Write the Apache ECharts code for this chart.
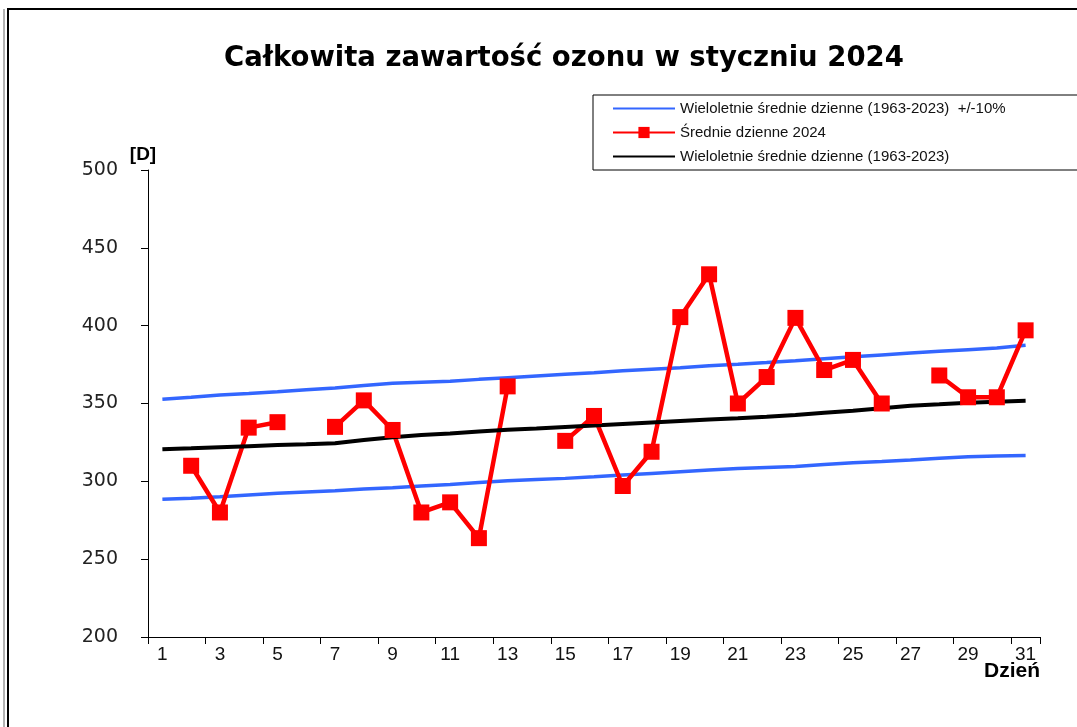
<!DOCTYPE html>
<html>
<head>
<meta charset="utf-8">
<script src="https://cdn.jsdelivr.net/npm/echarts@6/dist/echarts.min.js"></script>
<style>
  html, body { margin: 0; padding: 0; background: #fff; }
  #chart { width: 1077px; height: 727px; }
</style>
</head>
<body>
<div id="chart"></div>
<script>
// dni stycznia
var days = [];
for (var d = 1; d <= 31; d++) days.push(String(d));

// Średnie dzienne 2024 (brak pomiaru = null)
var daily2024 = [null, 310, 280, 334.5, 338, null, 335, 352, 333, 280, 286.5, 263.5, 361, null,
  326, 342, 297, 319, 405.5, 433, 350, 367, 405, 371.5, 378, 350, null, 368, 354, 354, 397];

// Wieloletnie średnie dzienne (1963-2023)
var meanLong = [320.6, 321.2, 321.9, 322.6, 323.3, 323.8, 324.4, 326.5, 328.3, 329.7, 330.8, 332,
  333.2, 334, 334.9, 335.8, 336.8, 337.8, 338.8, 339.7, 340.5, 341.5, 342.6, 344, 345.4, 347,
  348.6, 349.5, 350.5, 351.2, 351.8];

// +10% i -10%
var upperBand = [352.7, 354, 355.5, 356.5, 357.6, 358.8, 360, 361.5, 363, 363.7, 364.3, 365.5,
  366.6, 367.7, 368.8, 369.8, 371, 372, 373, 374.2, 375.2, 376.3, 377.5, 378.8, 380, 381.2,
  382.4, 383.5, 384.6, 385.6, 387.4];
var lowerBand = [288.5, 289.2, 290.1, 291.2, 292.3, 293.2, 294, 295, 295.9, 297, 298, 299.2,
  300.3, 301.1, 301.9, 302.9, 304, 305.1, 306.2, 307.3, 308.3, 308.9, 309.5, 310.8, 312, 312.8,
  313.7, 314.8, 315.8, 316.2, 316.6];

var nameBand = 'Wieloletnie średnie dzienne (1963-2023)  +/-10%';
var nameDaily = 'Średnie dzienne 2024';
var nameMean = 'Wieloletnie średnie dzienne (1963-2023)';

var chart = echarts.init(document.getElementById('chart'));

var option = {
    animation: false,
    backgroundColor: '#fff',
    title: {
        text: 'Całkowita zawartość ozonu w styczniu 2024',
        left: 219,
        top: 40,
        textStyle: {
            fontFamily: 'DejaVu Sans, sans-serif',
            fontSize: 27.5,
            fontWeight: 'bold',
            color: '#000'
        }
    },
    legend: {
        orient: 'vertical',
        left: 593,
        top: 95,
        data: [
            { name: nameBand, itemStyle: { opacity: 0 } },
            { name: nameDaily },
            { name: nameMean, itemStyle: { opacity: 0 } }
        ],
        itemWidth: 62,
        itemHeight: 14,
        itemGap: 9,
        padding: [6, 90, 6, 19],
        borderColor: '#000',
        borderWidth: 1,
        textStyle: {
            fontFamily: 'Liberation Sans, Arial, sans-serif',
            fontSize: 15,
            color: '#111'
        }
    },
    grid: {
        left: 148,
        right: 37,
        top: 170,
        bottom: 90,
        outerBoundsMode: 'none'
    },
    xAxis: {
        type: 'category',
        data: days,
        axisLine: { lineStyle: { color: '#000', width: 1 } },
        axisTick: { show: true, length: 7, lineStyle: { color: '#000' } },
        axisLabel: {
            interval: 1,
            margin: 8,
            fontFamily: 'Liberation Sans Narrow, Liberation Sans, Arial, sans-serif',
            fontSize: 19,
            color: '#111'
        },
        splitLine: { show: false }
    },
    yAxis: {
        type: 'value',
        min: 200,
        max: 500,
        interval: 50,
        name: '[D]',
        nameLocation: 'end',
        nameGap: 6,
        nameTextStyle: {
            fontFamily: 'Liberation Sans, Arial, sans-serif',
            fontSize: 19,
            fontWeight: 'bold',
            color: '#000',
            padding: [0, 10, 0, 0]
        },
        axisLine: { show: true, lineStyle: { color: '#000', width: 1 } },
        axisTick: { show: true, length: 7, lineStyle: { color: '#000' } },
        axisLabel: {
            margin: 30,
            fontFamily: 'DejaVu Sans, sans-serif',
            fontSize: 19,
            color: '#222'
        },
        splitLine: { show: false }
    },
    graphic: [
        {
            type: 'rect',
            shape: { x: 8, y: 9, width: 1100, height: 760 },
            style: { fill: 'none', stroke: '#000', lineWidth: 2 },
            silent: true
        },
        {
            type: 'line',
            shape: { x1: 4, y1: 9, x2: 4, y2: 727 },
            style: { stroke: '#666', lineWidth: 1 },
            silent: true
        },
        {
            // podpis osi X
            type: 'text',
            left: 984,
            top: 661,
            style: {
                text: 'Dzień',
                font: 'bold 21px "Liberation Sans", Arial, sans-serif',
                fill: '#000'
            },
            silent: true
        }
    ],
    series: [
        {
            name: nameBand,
            type: 'line',
            data: upperBand,
            symbol: 'none',
            lineStyle: { color: '#3366ff', width: 3.5 },
            itemStyle: { color: '#3366ff' }
        },
        {
            name: nameBand,
            type: 'line',
            data: lowerBand,
            symbol: 'none',
            lineStyle: { color: '#3366ff', width: 3.5 },
            itemStyle: { color: '#3366ff' }
        },
        {
            name: nameDaily,
            type: 'line',
            data: daily2024,
            connectNulls: false,
            symbol: 'rect',
            symbolSize: 16,
            showAllSymbol: true,
            lineStyle: { color: '#ff0000', width: 4.5 },
            itemStyle: { color: '#ff0000' }
        },
        {
            name: nameMean,
            type: 'line',
            data: meanLong,
            symbol: 'none',
            lineStyle: { color: '#000', width: 4 },
            itemStyle: { color: '#000' }
        }
    ]
};

chart.setOption(option);
</script>
</body>
</html>
